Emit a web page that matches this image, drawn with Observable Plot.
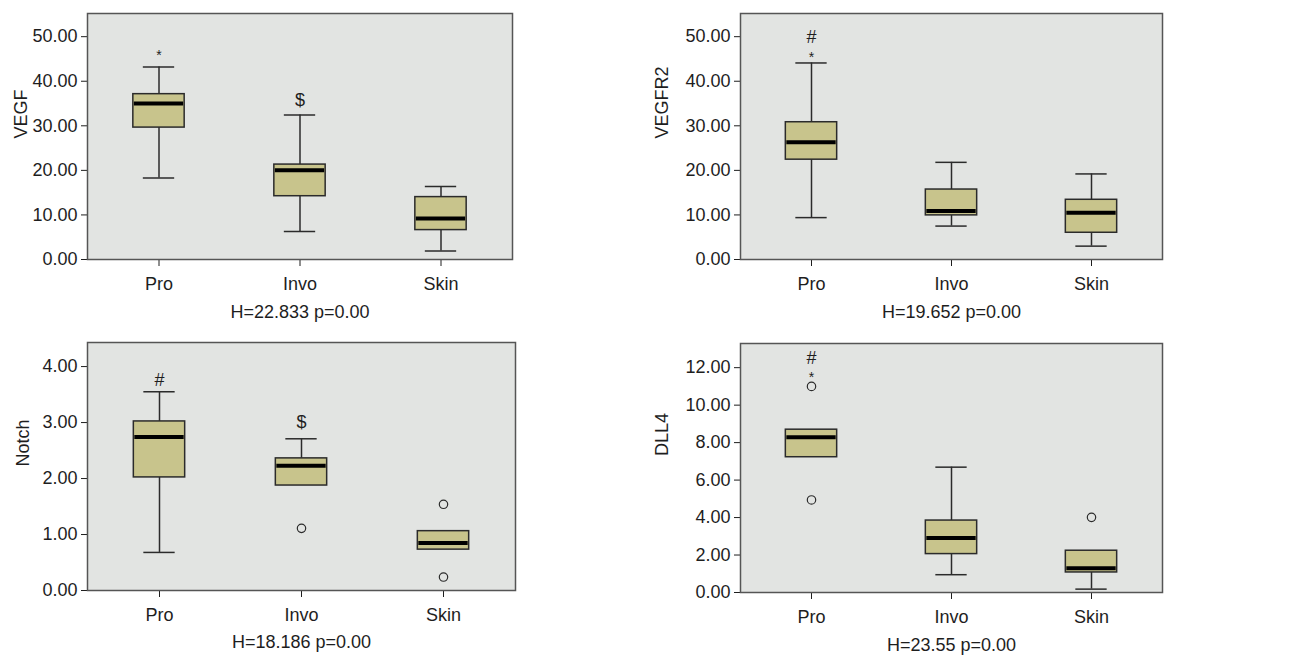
<!DOCTYPE html>
<html>
<head>
<meta charset="utf-8">
<script src="https://cdn.jsdelivr.net/npm/d3@7"></script>
<script src="https://cdn.jsdelivr.net/npm/@observablehq/plot@0.6"></script>
<style>
  html, body { margin: 0; padding: 0; background: #ffffff; }
  #grid { position: relative; width: 1290px; height: 664px; }
  .panel { position: absolute; }
  .panel svg { display: block; }
</style>
</head>
<body>
<div id="grid">
  <div class="panel" id="p1" style="left:0px;top:0px"></div>
  <div class="panel" id="p2" style="left:640px;top:0px"></div>
  <div class="panel" id="p3" style="left:0px;top:330px"></div>
  <div class="panel" id="p4" style="left:640px;top:330px"></div>
</div>
<script>
// ---------- data ----------
const groups = ["Pro", "Invo", "Skin"];

// per group: [lower whisker, Q1, median, Q3, upper whisker]
const vegfBox   = [[18.3, 29.6, 35.0, 37.1, 43.2], [6.3, 14.2, 20.0, 21.3, 32.4], [1.9, 6.6, 9.2, 14.0, 16.4]];
const vegfr2Box = [[9.4, 22.4, 26.3, 30.8, 44.1], [7.5, 9.9, 10.9, 15.7, 21.8], [3.0, 6.0, 10.5, 13.4, 19.2]];
const notchBox  = [[0.68, 2.02, 2.74, 3.02, 3.55], [1.875, 1.875, 2.23, 2.36, 2.71], [0.73, 0.73, 0.85, 1.06, 1.06]];
const dll4Box   = [[7.22, 7.22, 8.29, 8.69, 8.69], [0.95, 2.05, 2.91, 3.84, 6.69], [0.18, 1.07, 1.30, 2.23, 2.23]];

// outliers: [group, value]
const vegfOut   = [];
const vegfr2Out = [];
const notchOut  = [["Invo", 1.11], ["Skin", 1.54], ["Skin", 0.24]];
const dll4Out   = [["Pro", 11.0], ["Pro", 4.94], ["Skin", 4.01]];

// significance symbols: [group, symbol, value]
const vegfSig   = [["Pro", "*", 46.7], ["Invo", "$", 35.8]];
const vegfr2Sig = [["Pro", "#", 49.8], ["Pro", "*", 46.3]];
const notchSig  = [["Pro", "#", 3.75], ["Invo", "$", 3.0]];
const dll4Sig   = [["Pro", "#", 12.5], ["Pro", "*", 11.7]];

const yLabels  = ["VEGF", "VEGFR2", "Notch", "DLL4"];
const captions = ["H=22.833 p=0.00", "H=19.652 p=0.00", "H=18.186 p=0.00", "H=23.55 p=0.00"];
const yTicks = [[0, 10, 20, 30, 40, 50], [0, 10, 20, 30, 40, 50], [0, 1, 2, 3, 4], [0, 2, 4, 6, 8, 10, 12]];
const yMax   = [55.2, 55.2, 4.43, 13.29];

// ---------- drawing ----------
const boxes = [vegfBox, vegfr2Box, notchBox, dll4Box];
const outs  = [vegfOut, vegfr2Out, notchOut, dll4Out];
const sigs  = [vegfSig, vegfr2Sig, notchSig, dll4Sig];

const layout = [
  {id: "p1", width: 640, height: 330, mt: 13, mb: 71, ml: 87, mr: 128, capDy: 58, labDx: -66, labDy: 2},
  {id: "p2", width: 650, height: 330, mt: 13, mb: 71, ml: 100, mr: 128, capDy: 58, labDx: -78, labDy: 2},
  {id: "p3", width: 640, height: 334, mt: 12, mb: 74, ml: 87, mr: 125, capDy: 57, labDx: -64, labDy: 0},
  {id: "p4", width: 650, height: 334, mt: 13, mb: 72, ml: 100, mr: 128, capDy: 58, labDx: -78, labDy: -12}
];

const fillBox = "#c8c48c";
const ink = "#2b2b2b";

layout.forEach((L, k) => {
  const rows = groups.map((g, i) => {
    const [low, q1, med, q3, high] = boxes[k][i];
    return {g, low, q1, med, q3, high};
  });
  const outRows = outs[k].map(([g, v]) => ({g, v}));
  const sigRows = sigs[k].map(([g, s, v]) => ({g, s, v}));

  const stepApprox = (L.width - L.ml - L.mr) / groups.length;
  const boxInset = (stepApprox - 52) / 2;
  const capInset = (stepApprox - 32) / 2;

  const chart = Plot.plot({
    width: L.width,
    height: L.height,
    marginTop: L.mt,
    marginBottom: L.mb,
    marginLeft: L.ml,
    marginRight: L.mr,
    style: {fontFamily: "'Liberation Sans', Arial, sans-serif", fontSize: "18px", color: "#1e1e1e", background: "transparent"},
    x: {type: "band", domain: groups, padding: 0, label: null},
    y: {domain: [0, yMax[k]], label: null},
    marks: [
      Plot.frame({fill: "#e2e4e2", stroke: null}),
      Plot.axisY({ticks: yTicks[k], tickFormat: d3.format(".2f"), tickSize: 6, tickPadding: 4, label: null, fontSize: 18}),
      Plot.axisX({tickSize: 7, tickPadding: 11, label: null, fontSize: 18}),
      // whiskers
      Plot.ruleX(rows.filter(d => d.high > d.q3), {x: "g", y1: "q3", y2: "high", stroke: ink, strokeWidth: 1.5}),
      Plot.ruleX(rows.filter(d => d.low < d.q1), {x: "g", y1: "low", y2: "q1", stroke: ink, strokeWidth: 1.5}),
      Plot.tickY(rows.filter(d => d.high > d.q3), {x: "g", y: "high", stroke: ink, strokeWidth: 1.5, insetLeft: capInset, insetRight: capInset}),
      Plot.tickY(rows.filter(d => d.low < d.q1), {x: "g", y: "low", stroke: ink, strokeWidth: 1.5, insetLeft: capInset, insetRight: capInset}),
      // boxes
      Plot.barY(rows, {x: "g", y1: "q1", y2: "q3", fill: fillBox, stroke: ink, strokeWidth: 1.5, insetLeft: boxInset, insetRight: boxInset}),
      // medians
      Plot.tickY(rows, {x: "g", y: "med", stroke: "#000", strokeWidth: 4, insetLeft: boxInset + 1, insetRight: boxInset + 1}),
      // outliers
      Plot.dot(outRows, {x: "g", y: "v", r: 4.2, stroke: ink, strokeWidth: 1.2, fill: "none"}),
      // significance symbols
      Plot.text(sigRows.filter(d => d.s === "*"), {x: "g", y: "v", text: "s", fill: "#1e1e1e", fontSize: 14, dy: 4}),
      Plot.text(sigRows.filter(d => d.s !== "*"), {x: "g", y: "v", text: "s", fill: "#1e1e1e", fontSize: 18}),
      // y label
      Plot.text([yLabels[k]], {frameAnchor: "left", dx: L.labDx, dy: L.labDy, rotate: -90, fontSize: 18, fill: "#1e1e1e"}),
      // caption
      Plot.text([captions[k]], {frameAnchor: "bottom", dy: L.capDy, fontSize: 18, fill: "#1e1e1e"}),
      Plot.frame({stroke: "#555555", strokeWidth: 1.5})
    ]
  });
  document.getElementById(L.id).appendChild(chart);
});
</script>
</body>
</html>
